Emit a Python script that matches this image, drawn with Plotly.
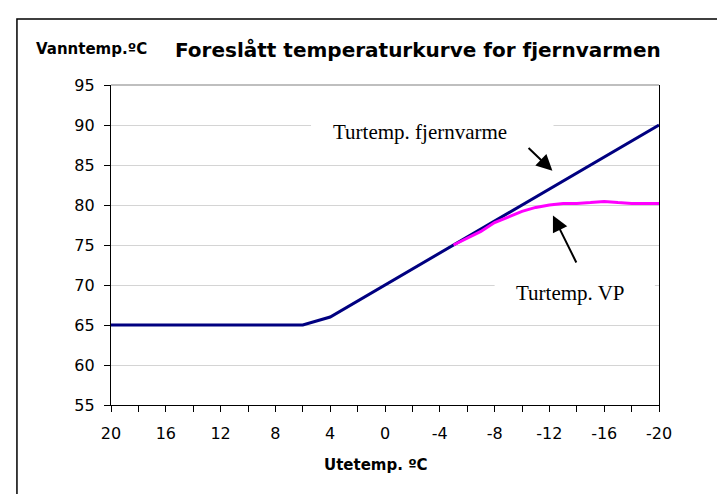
import plotly.graph_objects as go

# ---- data ----
ute_fjern = [20, 18, 16, 14, 12, 10, 8, 6, 4, 2, 0, -2, -4, -6, -8, -10, -12, -14, -16, -18, -20]
tur_fjern = [65, 65, 65, 65, 65, 65, 65, 65, 66, 68, 70, 72, 74, 76, 78, 80, 82, 84, 86, 88, 90]

ute_vp = [-5, -6, -7, -8, -9, -10, -11, -12, -13, -14, -15, -16, -17, -18, -19, -20]
tur_vp = [75.0, 75.8, 76.7, 77.8, 78.5, 79.2, 79.7, 80.0, 80.2, 80.2, 80.3, 80.45, 80.3, 80.2, 80.2, 80.2]

x_ticks = [20, 16, 12, 8, 4, 0, -4, -8, -12, -16, -20]
y_ticks = [55, 60, 65, 70, 75, 80, 85, 90, 95]

title = "Foreslått temperaturkurve for fjernvarmen"
y_label = "Vanntemp.ºC"
x_label = "Utetemp. ºC"
label_fjern = "Turtemp. fjernvarme"
label_vp = "Turtemp. VP"

SANS = "DejaVu Sans"
SERIF = "Liberation Serif"

fig = go.Figure()
fig.add_trace(go.Scatter(x=ute_fjern, y=tur_fjern, mode="lines",
                         line=dict(color="#000080", width=3), showlegend=False,
                         hoverinfo="skip"))
fig.add_trace(go.Scatter(x=ute_vp, y=tur_vp, mode="lines",
                         line=dict(color="#FF00FF", width=3), showlegend=False,
                         hoverinfo="skip"))

L, R, T, B = 103.3, 74, 76.7, 96.7
W, H = 725, 494
pw = W - L - R
ph = H - T - B

def px(xp):
    return (xp - L) / pw

def py(yp):
    return (H - B - yp) / ph

shapes = [
    # outer chart border
    dict(type="rect", xref="paper", yref="paper", x0=px(9.3), x1=px(760),
         y0=py(540), y1=py(10.7), line=dict(color="black", width=1.5), layer="above"),
    # white text boxes hiding gridlines
    dict(type="rect", xref="x", yref="y", x0=5.4, x1=-12.3, y0=86.8, y1=91.4,
         fillcolor="white", line=dict(width=0), layer="between"),
    dict(type="rect", xref="x", yref="y", x0=-8.0, x1=-19.7, y0=65.15, y1=72.5,
         fillcolor="white", line=dict(width=0), layer="between"),
    # plot area top border
    dict(type="line", xref="paper", yref="paper", x0=0, x1=1, y0=1, y1=1,
         line=dict(color="#808080", width=1.2), layer="above"),
]

annotations = [
    dict(text=title, xref="paper", yref="paper", x=px(410.5), y=py(41.5),
         xanchor="center", yanchor="middle", showarrow=False,
         font=dict(family=SANS, size=20, color="black", weight="bold")),
    dict(text=y_label, xref="paper", yref="paper", x=px(83.7), y=py(40.5),
         xanchor="center", yanchor="middle", showarrow=False,
         font=dict(family=SANS, size=15, color="black", weight="bold")),
    dict(text=x_label, xref="paper", yref="paper", x=px(368), y=py(457.3),
         xanchor="center", yanchor="middle", showarrow=False,
         font=dict(family=SANS, size=15, color="black", weight="bold")),
    dict(text=label_fjern, xref="x", yref="y", x=-2.53, y=89.1,
         xanchor="center", yanchor="middle", showarrow=False,
         font=dict(family=SERIF, size=21, color="black")),
    dict(text=label_vp, xref="x", yref="y", x=-13.56, y=69.0,
         xanchor="center", yanchor="middle", showarrow=False,
         font=dict(family=SERIF, size=21, color="black")),
    dict(text="", x=-12.22, y=84.27, ax=-10.37, ay=87.3, xref="x", yref="y",
         axref="x", ayref="y", showarrow=True, arrowhead=2, arrowsize=1.6,
         arrowwidth=2, arrowcolor="black", standoff=0, startstandoff=0),
    dict(text="", x=-12.26, y=78.7, ax=-14.02, ay=72.63, xref="x", yref="y",
         axref="x", ayref="y", showarrow=True, arrowhead=2, arrowsize=1.6,
         arrowwidth=2, arrowcolor="black", standoff=0, startstandoff=0),
]

fig.update_layout(
    width=W, height=H,
    margin=dict(l=L, r=R, t=T, b=B, pad=0),
    paper_bgcolor="white", plot_bgcolor="white",
    shapes=shapes, annotations=annotations,
    xaxis=dict(range=[20, -20], tickvals=x_ticks, ticktext=[str(v) for v in x_ticks],
               ticks="outside", ticklen=6, tickcolor="black", tickwidth=1,
               showline=True, linecolor="black", linewidth=1.2, mirror=False,
               showgrid=False, zeroline=False,
               tickfont=dict(family=SANS, size=16, color="black"),
               ticklabelstandoff=8,
               minor=dict(dtick=2, tick0=0, ticks="outside", ticklen=6,
                          tickcolor="black", showgrid=False)),
    yaxis=dict(range=[55, 95], tickvals=y_ticks, ticks="outside", ticklen=6,
               tickcolor="black", tickwidth=1,
               showline=True, linecolor="black", linewidth=1.2, mirror=True,
               showgrid=True, gridcolor="#d4d4d4", gridwidth=1.2, zeroline=False,
               tickfont=dict(family=SANS, size=16, color="black"),
               ticklabelstandoff=6),
)

fig.write_html("out.html")
